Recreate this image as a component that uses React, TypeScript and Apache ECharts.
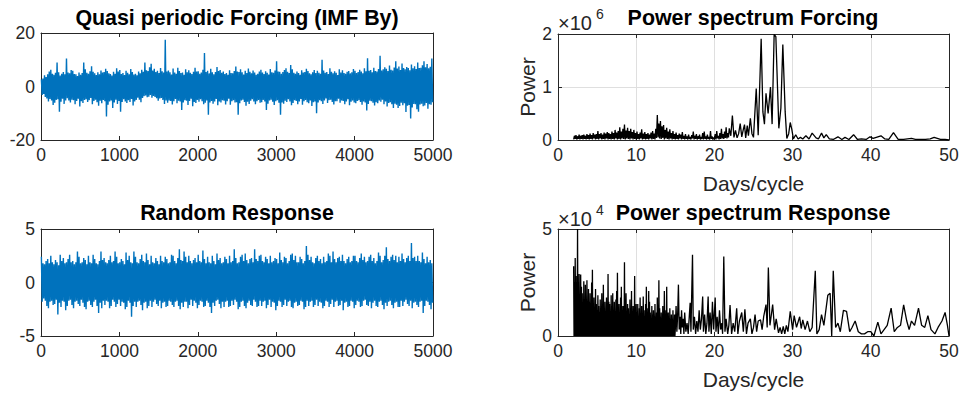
import React, { useEffect, useRef } from "react";
import * as echarts from "echarts";

// ---- time series envelopes: max / min of each bin of 20 samples (days 0..5000) ----
const SAMPLES_PER_BIN = 20;
const forcingMax = [
  2.6, 3.0, 4.2, 3.5, 4.6, 5.6, 6.3, 4.8, 4.4, 5.1, 9.0, 5.3, 4.1, 4.8, 5.4, 4.6, 10.5, 5.2, 4.9, 6.2,
  5.9, 4.7, 4.6, 3.9, 5.2, 4.4, 5.0, 9.0, 6.4, 5.1, 4.8, 5.7, 7.6, 5.5, 4.9, 4.3, 5.3, 4.6, 6.0, 5.2,
  5.4, 6.6, 5.8, 4.9, 4.7, 4.1, 5.5, 4.8, 6.8, 5.6, 6.2, 4.7, 5.0, 4.3, 5.9, 5.1, 4.6, 6.5, 5.4, 4.5,
  4.8, 4.2, 5.6, 4.9, 6.3, 5.5, 9.0, 6.1, 5.8, 7.2, 8.5, 6.0, 6.6, 5.4, 5.9, 5.0, 6.9, 5.7, 5.2, 17.5,
  5.6, 6.0, 5.3, 4.5, 6.7, 5.2, 4.8, 7.0, 5.8, 5.0, 5.2, 4.4, 6.4, 5.3, 6.1, 5.1, 4.7, 5.5, 7.0, 5.6,
  5.7, 4.8, 5.2, 6.3, 12.5, 5.4, 5.9, 4.9, 6.6, 5.3, 4.6, 5.4, 7.3, 5.8, 6.2, 5.1, 5.6, 4.7, 5.0, 4.4,
  6.1, 5.0, 4.9, 5.8, 7.5, 5.6, 5.4, 6.4, 5.3, 4.5, 5.9, 5.0, 6.7, 5.5, 4.9, 6.0, 5.2, 4.4, 4.8, 5.6,
  6.3, 5.2, 4.7, 5.7, 5.1, 4.5, 6.5, 5.3, 5.1, 6.0, 9.4, 5.6, 5.5, 4.8, 5.4, 6.2, 6.8, 5.5, 5.0, 8.0,
  6.4, 5.1, 4.8, 5.6, 5.0, 4.4, 6.1, 5.2, 5.4, 6.6, 5.8, 4.9, 4.6, 5.3, 6.2, 5.0, 5.9, 5.1, 4.8, 10.0,
  6.0, 5.1, 5.4, 4.7, 6.8, 5.5, 4.9, 5.7, 5.1, 4.3, 6.4, 5.2, 6.1, 5.0, 4.8, 5.5, 5.8, 4.9, 5.3, 6.5,
  5.9, 5.0, 5.4, 6.3, 5.6, 4.9, 6.8, 5.7, 10.6, 5.9, 6.2, 5.3, 7.0, 5.8, 5.6, 6.5, 11.5, 6.0, 6.4, 7.2,
  6.6, 5.8, 7.8, 6.3, 6.0, 7.1, 9.4, 6.7, 7.5, 6.2, 8.6, 6.9, 6.4, 7.3, 6.9, 6.1, 8.2, 6.8, 7.6, 6.5,
  9.0, 6.9, 7.0, 7.9, 9.4, 7.2, 8.4, 6.8, 7.4, 10.5,
];
const forcingMin = [
  -3.2, -2.8, -3.9, -4.5, -5.6, -4.7, -5.2, -6.9, -6.1, -5.0, -4.8, -9.4, -5.7, -4.6, -6.5, -5.2, -4.4, -5.2, -6.0, -4.9,
  -5.1, -6.6, -5.4, -4.6, -7.5, -5.5, -6.2, -5.0, -4.8, -5.8, -5.1, -4.3, -6.6, -5.4, -4.9, -5.9, -7.2, -5.3, -6.3, -5.0,
  -5.5, -11.2, -6.8, -5.6, -5.2, -8.0, -6.0, -4.9, -6.5, -5.4, -9.4, -5.8, -4.8, -5.6, -6.2, -5.1, -5.8, -4.7, -7.1, -5.6,
  -5.0, -4.2, -4.9, -5.9, -4.3, -3.6, -3.4, -4.0, -3.8, -3.2, -4.2, -3.5, -3.9, -4.4, -5.3, -4.5, -4.3, -5.0, -6.5, -5.2,
  -6.1, -5.2, -5.4, -6.7, -5.5, -4.7, -6.3, -5.3, -5.6, -8.8, -6.0, -5.1, -5.3, -6.9, -5.4, -4.6, -7.4, -5.8, -6.2, -5.0,
  -5.7, -4.8, -5.5, -6.6, -6.1, -5.2, -10.6, -6.0, -5.4, -6.4, -5.6, -4.7, -7.0, -5.6, -6.0, -5.1, -5.3, -6.7, -5.5, -4.6,
  -6.8, -5.5, -5.1, -6.0, -5.9, -10.6, -6.3, -5.2, -4.9, -5.8, -7.2, -5.7, -6.5, -5.3, -4.8, -5.6, -6.6, -5.5, -5.0, -6.1,
  -5.9, -5.0, -5.6, -8.8, -6.4, -5.2, -4.9, -5.7, -6.9, -5.5, -5.1, -6.1, -10.6, -6.0, -6.4, -5.3, -5.8, -4.8, -5.6, -7.0,
  -6.2, -5.1, -5.4, -6.6, -5.6, -4.7, -6.8, -5.5, -5.0, -5.9, -6.3, -5.2, -7.3, -5.9, -5.6, -10.0, -6.0, -5.1, -5.5, -6.5,
  -5.2, -4.5, -6.2, -5.1, -4.9, -5.8, -6.7, -5.5, -5.5, -4.6, -6.1, -5.2, -5.4, -6.6, -5.6, -4.8, -7.0, -5.7, -5.2, -6.0,
  -6.3, -5.4, -5.1, -5.8, -6.8, -5.6, -6.0, -9.0, -6.5, -5.3, -5.5, -6.1, -7.1, -5.9, -6.3, -5.2, -5.7, -4.9, -6.6, -5.6,
  -7.5, -6.2, -5.9, -6.6, -8.0, -6.4, -6.8, -8.0, -7.3, -6.1, -7.0, -6.3, -9.5, -7.2, -6.9, -12.0, -7.8, -6.5, -6.6, -8.5,
  -9.4, -6.7, -6.4, -7.4, -7.1, -6.2, -8.3, -6.6, -6.8, -5.9,
];
const responseMax = [
  2.4, 1.8, 1.7, 2.0, 2.2, 1.8, 2.5, 1.9, 1.7, 2.1, 1.9, 1.6, 2.6, 2.0, 2.3, 1.8, 1.9, 2.2, 2.6, 1.9,
  2.0, 1.7, 1.9, 2.9, 2.4, 1.8, 1.9, 2.3, 2.1, 1.7, 2.5, 1.9, 1.8, 2.6, 2.2, 1.8, 1.7, 2.0, 2.9, 2.1,
  2.3, 1.9, 1.8, 2.1, 2.5, 1.9, 2.0, 2.9, 2.4, 1.8, 1.9, 2.2, 2.0, 1.7, 2.8, 2.1, 2.5, 1.9, 1.8, 2.9,
  2.4, 1.9, 1.8, 2.2, 2.6, 2.0, 1.9, 2.7, 2.1, 1.7, 2.5, 1.9, 1.8, 2.3, 2.0, 1.7, 2.5, 2.0, 1.9, 2.4,
  2.2, 1.8, 1.9, 2.6, 2.5, 2.0, 1.8, 2.3, 3.1, 2.1, 2.0, 2.9, 2.4, 1.9, 2.5, 2.0, 1.8, 2.1, 2.3, 1.9,
  2.6, 2.0, 1.9, 3.0, 2.2, 1.8, 2.4, 1.9, 1.8, 2.5, 2.0, 1.7, 2.7, 2.1, 2.3, 1.8, 1.9, 2.4, 2.2, 1.8,
  2.5, 1.9, 2.0, 3.1, 2.3, 1.8, 1.9, 2.4, 2.6, 2.0, 2.7, 2.1, 1.8, 2.2, 2.3, 1.9, 3.1, 2.2, 2.0, 2.5,
  2.6, 2.0, 1.9, 2.4, 2.2, 1.8, 2.5, 1.9, 2.0, 2.3, 2.2, 1.8, 2.8, 2.1, 1.9, 2.4, 2.3, 1.8, 2.0, 2.6,
  2.7, 2.1, 2.5, 1.9, 1.9, 2.4, 2.2, 1.8, 2.0, 3.4, 2.6, 2.1, 2.4, 1.9, 1.8, 2.3, 2.5, 2.0, 2.2, 1.8,
  2.4, 1.9, 2.0, 2.7, 2.5, 1.9, 2.9, 2.2, 1.9, 2.3, 2.4, 2.0, 2.6, 2.0, 1.8, 2.2, 2.4, 1.9, 2.0, 2.5,
  2.5, 2.0, 1.9, 2.3, 2.7, 2.1, 2.4, 1.9, 2.0, 2.4, 2.6, 2.0, 2.3, 1.8, 2.0, 2.8, 2.5, 1.9, 2.1, 2.5,
  3.3, 2.2, 2.0, 2.4, 2.6, 2.1, 2.5, 1.9, 2.4, 2.0, 2.7, 2.2, 1.9, 2.3, 2.5, 2.0, 3.7, 2.3, 2.4, 2.0,
  2.5, 2.0, 1.9, 2.8, 2.2, 1.8, 2.4, 1.9, 2.1, 1.8,
];
const responseMin = [
  -1.8, -1.5, -1.7, -2.2, -2.4, -1.8, -1.7, -2.1, -2.0, -1.6, -3.0, -1.9, -2.3, -1.7, -1.8, -2.6, -2.2, -1.7, -1.6, -2.1,
  -2.4, -1.8, -1.7, -2.0, -2.2, -1.6, -1.9, -2.3, -2.5, -1.8, -1.7, -2.1, -2.3, -1.8, -1.6, -2.2, -2.85, -1.9, -2.4, -1.7,
  -2.1, -1.7, -1.8, -2.4, -2.2, -1.6, -1.8, -2.3, -2.0, -1.6, -2.2, -1.8, -1.9, -2.5, -2.3, -1.7, -1.9, -3.2, -2.2, -1.8,
  -2.3, -1.8, -1.7, -2.1, -2.6, -1.9, -1.8, -2.4, -2.2, -1.7, -2.3, -1.8, -1.6, -2.0, -2.2, -1.7, -2.4, -1.9, -1.8, -2.3,
  -2.2, -1.7, -1.8, -2.1, -2.3, -1.8, -1.7, -2.2, -2.5, -1.9, -2.3, -1.8, -1.8, -2.4, -2.1, -1.6, -2.2, -1.7, -1.9, -2.4,
  -2.1, -1.7, -1.8, -2.3, -2.2, -1.7, -1.9, -2.3, -2.85, -1.9, -2.2, -1.7, -1.6, -2.0, -2.4, -1.8, -2.3, -1.8, -1.7, -2.3,
  -2.2, -1.7, -2.1, -1.6, -1.8, -2.5, -2.3, -1.8, -1.7, -2.2, -2.4, -1.9, -1.7, -2.1, -2.2, -1.6, -1.8, -2.3, -2.2, -1.7,
  -2.2, -1.8, -1.7, -2.4, -2.1, -1.6, -2.3, -1.8, -1.9, -2.6, -2.2, -1.7, -1.8, -2.3, -2.1, -1.6, -2.2, -1.8, -1.7, -2.3,
  -2.4, -1.9, -1.8, -2.2, -2.1, -1.7, -1.8, -2.5, -2.3, -1.7, -2.2, -1.8, -1.7, -2.3, -2.1, -1.6, -2.2, -1.8, -1.9, -2.4,
  -2.2, -1.7, -1.8, -2.3, -2.0, -1.6, -2.3, -1.8, -1.7, -2.2, -2.1, -1.7, -2.6, -1.9, -1.8, -2.3, -2.2, -1.7, -1.8, -2.4,
  -2.1, -1.7, -1.8, -2.3, -2.2, -1.7, -1.6, -2.1, -2.2, -1.8, -2.4, -1.9, -1.7, -2.2, -2.3, -1.8, -1.7, -2.1, -2.5, -1.9,
  -2.2, -1.8, -1.7, -2.1, -2.4, -1.9, -1.8, -2.3, -2.3, -1.7, -2.2, -1.8, -1.6, -2.0, -2.2, -1.7, -2.4, -1.9, -1.8, -2.1,
  -2.3, -1.8, -1.7, -2.85, -2.2, -1.7, -1.8, -2.1, -2.5, -1.9,
];

// ---- forcing power spectrum (x1e6), dense part 2.0 .. 21.9 days, step 0.1 ----
const forcingDenseStart = 2.0;
const forcingDenseStep = 0.1;
const forcingDense = [
  0.01, 0.08, 0.02, 0.09, 0.01, 0.07, 0.02, 0.10, 0.01, 0.08,
  0.02, 0.09, 0.01, 0.10, 0.02, 0.08, 0.01, 0.11, 0.02, 0.09,
  0.01, 0.12, 0.02, 0.09, 0.01, 0.13, 0.03, 0.10, 0.01, 0.11,
  0.02, 0.17, 0.01, 0.11, 0.03, 0.13, 0.01, 0.10, 0.02, 0.14,
  0.01, 0.12, 0.03, 0.15, 0.01, 0.13, 0.02, 0.11, 0.01, 0.16,
  0.02, 0.13, 0.01, 0.19, 0.03, 0.14, 0.01, 0.17, 0.02, 0.24,
  0.01, 0.16, 0.03, 0.21, 0.02, 0.29, 0.01, 0.18, 0.03, 0.23,
  0.02, 0.17, 0.01, 0.21, 0.03, 0.15, 0.01, 0.19, 0.02, 0.13,
  0.01, 0.16, 0.02, 0.11, 0.01, 0.14, 0.03, 0.20, 0.01, 0.12,
  0.02, 0.15, 0.01, 0.11, 0.02, 0.13, 0.01, 0.10, 0.03, 0.14,
  0.01, 0.17, 0.02, 0.12, 0.01, 0.21, 0.04, 0.47, 0.05, 0.31,
  0.03, 0.36, 0.02, 0.26, 0.04, 0.28, 0.01, 0.19, 0.03, 0.23,
  0.02, 0.16, 0.01, 0.20, 0.03, 0.13, 0.01, 0.17, 0.02, 0.11,
  0.01, 0.14, 0.02, 0.09, 0.01, 0.12, 0.03, 0.10, 0.01, 0.15,
  0.02, 0.08, 0.01, 0.11, 0.02, 0.07, 0.01, 0.10, 0.02, 0.06,
  0.01, 0.09, 0.03, 0.16, 0.01, 0.08, 0.02, 0.11, 0.01, 0.07,
  0.02, 0.10, 0.01, 0.06, 0.02, 0.13, 0.01, 0.16, 0.02, 0.07,
  0.01, 0.10, 0.02, 0.06, 0.01, 0.17, 0.02, 0.07, 0.01, 0.05,
  0.02, 0.11, 0.01, 0.17, 0.03, 0.08, 0.01, 0.13, 0.02, 0.21,
  0.03, 0.11, 0.02, 0.16, 0.04, 0.24, 0.03, 0.13, 0.05, 0.22,
];
const forcingTailPeriods = [
  22.1, 22.3, 22.5, 22.7, 22.9, 23.1, 23.3, 23.5, 23.7, 23.85,
  24.0, 24.2, 24.35, 24.6, 24.8, 25.0, 25.35, 25.6, 25.98, 26.2,
  26.4, 26.6, 26.87, 27.17, 27.38, 27.64, 27.86, 28.24, 28.5, 28.75,
  29.05, 29.26, 29.5, 29.7, 29.9, 30.1, 30.4, 30.7, 31.0, 31.3,
  31.7, 32.1, 32.5, 33.0, 33.3, 33.7, 34.0, 34.3, 34.7, 35.2,
  35.8, 36.3, 36.7, 37.2, 37.8, 38.3, 38.8, 39.4, 39.9, 40.3,
  40.7, 41.3, 41.8, 42.3, 42.9, 43.5, 44.2, 45.2, 45.7, 46.3,
  47.0, 47.6, 48.1, 48.9, 49.5, 50.0,
];
const forcingTailPower = [
  0.08, 0.46, 0.05, 0.18, 0.04, 0.12, 0.31, 0.06, 0.20, 0.29,
  0.04, 0.27, 0.08, 0.41, 0.12, 0.05, 0.97, 0.09, 1.91, 0.53,
  0.30, 0.88, 0.50, 1.00, 0.30, 1.99, 1.95, 0.22, 0.60, 1.80,
  0.53, 0.03, 0.12, 0.33, 0.20, 0.02, 0.10, 0.02, 0.05, 0.02,
  0.08, 0.02, 0.13, 0.04, 0.02, 0.13, 0.04, 0.10, 0.02, 0.01,
  0.06, 0.01, 0.05, 0.01, 0.10, 0.01, 0.02, 0.01, 0.06, 0.03,
  0.05, 0.08, 0.02, 0.01, 0.14, 0.01, 0.01, 0.03, 0.01, 0.01,
  0.01, 0.02, 0.05, 0.01, 0.01, 0.0,
];

// ---- response power spectrum (x1e4), dense peaks 2.0 .. 14.9 days, step 0.1 ----
const responseDenseStart = 2.0;
const responseDenseStep = 0.1;
const responseDensePeaks = [
  3.26, 2.5, 3.65, 2.8, 2.2, 5.0, 2.2, 2.9, 1.8, 2.87,
  2.3, 2.0, 1.5, 2.56, 1.2, 2.4, 1.7, 2.6, 1.1, 2.2,
  1.6, 2.0, 1.3, 2.5, 3.1, 1.4, 1.8, 1.0, 2.2, 1.5,
  1.2, 1.9, 1.4, 1.1, 1.7, 1.3, 2.0, 1.5, 2.4, 1.2,
  1.6, 1.0, 1.8, 1.3, 2.9, 1.6, 1.5, 1.1, 1.9, 1.4,
  2.0, 1.2, 1.6, 1.0, 1.7, 2.1, 2.95, 1.3, 1.5, 1.1,
  1.8, 2.3, 1.0, 1.4, 1.2, 3.45, 1.6, 2.0, 1.1, 1.5,
  1.3, 0.9, 1.7, 1.2, 2.1, 1.0, 1.4, 0.8, 2.8, 1.2,
  1.5, 1.1, 1.5, 0.9, 1.3, 1.8, 1.0, 1.4, 0.8, 1.85,
  1.2, 0.9, 1.5, 2.3, 1.3, 0.7, 2.1, 1.6, 1.1, 0.8,
  1.4, 1.0, 1.2, 0.7, 1.5, 0.9, 1.1, 1.8, 0.8, 2.6,
  1.3, 0.9, 1.1, 0.6, 1.4, 1.0, 2.1, 0.8, 1.2, 2.3,
  0.9, 1.1, 0.7, 1.3, 0.6, 1.0, 0.8, 1.2, 0.5, 1.0,
];
const responseTailPeriods = [
  15.0, 15.1, 15.2, 15.3, 15.4, 15.5, 15.6, 15.7, 15.8, 15.9,
  16.0, 16.1, 16.2, 16.35, 16.5, 16.65, 16.8, 16.9, 17.0, 17.2,
  17.3, 17.45, 17.6, 17.75, 17.9, 18.05, 18.2, 18.35, 18.5, 18.6,
  18.75, 18.9, 19.05, 19.2, 19.3, 19.45, 19.6, 19.75, 19.9, 20.1,
  20.2, 20.35, 20.5, 20.65, 20.8, 20.95, 21.05, 21.2, 21.35, 21.5,
  21.7, 21.85, 22.0, 22.2, 22.4, 22.6, 22.85, 23.0, 23.2, 23.5,
  23.7, 23.9, 24.1, 24.3, 24.6, 24.8, 25.0, 25.2, 25.4, 25.6,
  25.9, 26.1, 26.3, 26.6, 26.75, 26.9, 27.1, 27.25, 27.45, 27.7,
  27.9, 28.2, 28.4, 28.6, 28.8, 29.0, 29.2, 29.4, 29.7, 30.0,
  30.2, 30.5, 30.9, 31.1, 31.3, 31.6, 31.9, 32.2, 32.5, 32.9,
  33.1, 33.4, 33.7, 34.0, 34.5, 34.8, 35.0, 35.2, 35.5, 35.8,
  36.1, 36.5, 36.9, 37.3, 37.6, 38.0, 38.4, 38.8, 39.2, 39.6,
  40.0, 40.4, 40.9, 41.3, 41.7, 42.1, 42.6, 43.0, 43.4, 43.8,
  44.2, 44.6, 44.9, 45.2, 45.6, 46.1, 46.5, 46.9, 47.3, 47.7,
  48.2, 48.6, 49.1, 49.5, 49.8, 50.0,
];
const responseTailPower = [
  0.3, 1.4, 0.2, 1.0, 2.4, 0.3, 0.9, 0.1, 1.2, 0.4,
  0.8, 0.1, 1.1, 0.2, 0.6, 0.1, 1.0, 1.55, 0.2, 3.8,
  0.3, 0.9, 0.1, 0.7, 0.2, 1.2, 0.3, 0.8, 1.85, 0.2,
  1.0, 0.1, 0.6, 1.85, 0.2, 1.1, 0.1, 1.6, 0.3, 1.8,
  0.2, 0.9, 0.1, 1.2, 0.3, 0.6, 0.1, 3.72, 0.2, 0.8,
  0.1, 0.5, 1.45, 0.1, 0.6, 0.2, 1.3, 0.1, 0.7, 1.1,
  0.2, 1.25, 0.1, 0.6, 0.8, 0.1, 0.4, 1.0, 0.2, 0.7,
  0.75, 0.3, 0.9, 1.47, 0.4, 3.2, 0.5, 0.9, 1.47, 0.3,
  0.8, 0.15, 0.4, 0.1, 0.45, 0.1, 0.5, 0.2, 1.15, 0.3,
  0.95, 0.4, 0.9, 0.35, 0.75, 0.3, 0.7, 0.2, 0.4, 3.05,
  0.1, 0.3, 1.0, 0.5, 1.9, 2.0, 0.0, 3.05, 0.4, 0.6,
  0.2, 1.2, 1.15, 0.2, 0.4, 0.7, 0.2, 0.1, 0.1, 0.2,
  0.2, 0.0, 0.65, 0.1, 0.3, 0.5, 1.3, 0.2, 0.4, 0.5,
  1.45, 0.7, 0.3, 0.7, 0.5, 1.3, 0.5, 0.4, 0.95, 0.3,
  0.1, 0.4, 0.7, 1.1, 0.5, 0.0,
];

// ---- axis ticks ----
const tsTicks = [0, 1000, 2000, 3000, 4000, 5000];
const periodTicks = [0, 10, 20, 30, 40, 50];

const FONT = '"Liberation Sans", Arial, Helvetica, sans-serif';
const AX = "#262626";
const BLUE = "#0072BD";
const GRIDC = "#dfdfdf";
const TICK_FS = 17.5;
const NAME_FS = 21;
const TITLE_FS = 21.4;

function envelopePoints(maxs: number[], mins: number[], bin: number) {
  const pts: number[][] = [];
  for (let i = 0; i < maxs.length; i++) {
    pts.push([i * bin + bin * 0.25, maxs[i]]);
    pts.push([i * bin + bin * 0.75, mins[i]]);
  }
  return pts;
}

function forcingSpectrumPoints() {
  const pts: number[][] = [];
  forcingDense.forEach((v, i) => pts.push([forcingDenseStart + i * forcingDenseStep, v]));
  forcingTailPeriods.forEach((p, i) => pts.push([p, forcingTailPower[i]]));
  return pts;
}

function responseSpectrumPoints() {
  const pts: number[][] = [];
  responseDensePeaks.forEach((v, i) => {
    const x = responseDenseStart + i * responseDenseStep;
    pts.push([x, v]);
    pts.push([x + responseDenseStep / 2, 0]);
  });
  responseTailPeriods.forEach((p, i) => pts.push([p, responseTailPower[i]]));
  return pts;
}

const grids = [
  { left: 41, top: 33, width: 392, height: 107 },
  { left: 558, top: 34, width: 391, height: 106 },
  { left: 41, top: 229, width: 392, height: 107 },
  { left: 558, top: 229, width: 391, height: 107 },
];

const plainNum = (v: number) => String(v);

function bottomX(gridIndex: number, ticks: number[], grid: boolean, name?: string) {
  return {
    type: "value",
    gridIndex,
    position: "bottom",
    min: ticks[0],
    max: ticks[ticks.length - 1],
    interval: ticks[1] - ticks[0],
    axisLine: { show: true, onZero: false, lineStyle: { color: AX, width: 1 } },
    axisTick: { show: true, inside: true, length: 4, lineStyle: { color: AX } },
    axisLabel: { show: true, color: AX, fontSize: TICK_FS, fontFamily: FONT, margin: 6, formatter: plainNum },
    splitLine: { show: grid, lineStyle: { color: GRIDC, width: 1 } },
    name: name || "",
    nameLocation: "middle",
    nameGap: 33,
    nameTextStyle: { color: AX, fontSize: NAME_FS, fontFamily: FONT },
  };
}
function topX(gridIndex: number, ticks: number[]) {
  return {
    type: "value",
    gridIndex,
    position: "top",
    min: ticks[0],
    max: ticks[ticks.length - 1],
    interval: ticks[1] - ticks[0],
    axisLine: { show: true, onZero: false, lineStyle: { color: AX, width: 1 } },
    axisTick: { show: true, inside: true, length: 4, lineStyle: { color: AX } },
    axisLabel: { show: false },
    splitLine: { show: false },
  };
}
function leftY(gridIndex: number, min: number, max: number, interval: number, grid: boolean, name?: string) {
  return {
    type: "value",
    gridIndex,
    position: "left",
    min,
    max,
    interval,
    axisLine: { show: true, onZero: false, lineStyle: { color: AX, width: 1 } },
    axisTick: { show: true, inside: true, length: 4, lineStyle: { color: AX } },
    axisLabel: { show: true, color: AX, fontSize: TICK_FS, fontFamily: FONT, margin: 6, formatter: plainNum },
    splitLine: { show: grid, lineStyle: { color: GRIDC, width: 1 } },
    name: name || "",
    nameLocation: "middle",
    nameGap: 17,
    nameRotate: 90,
    nameTextStyle: { color: AX, fontSize: NAME_FS, fontFamily: FONT },
  };
}
function rightY(gridIndex: number, min: number, max: number, interval: number) {
  return {
    type: "value",
    gridIndex,
    position: "right",
    min,
    max,
    interval,
    axisLine: { show: true, onZero: false, lineStyle: { color: AX, width: 1 } },
    axisTick: { show: true, inside: true, length: 4, lineStyle: { color: AX } },
    axisLabel: { show: false },
    splitLine: { show: false },
  };
}

function titleText(text: string, x: number, y: number) {
  return {
    type: "text",
    x,
    y,
    style: {
      text,
      font: `bold ${TITLE_FS}px ${FONT}`,
      fill: "#000",
      textAlign: "center",
      textVerticalAlign: "middle",
      align: "center",
      verticalAlign: "middle",
    },
  };
}
function plainText(text: string, x: number, y: number, size: number) {
  return {
    type: "text",
    x,
    y,
    style: {
      text,
      font: `${size}px ${FONT}`,
      fill: AX,
      textAlign: "left",
      textVerticalAlign: "middle",
      align: "left",
      verticalAlign: "middle",
    },
  };
}

export default function App() {
  const ref = useRef<HTMLDivElement>(null);
  useEffect(() => {
    if (!ref.current) return;
    const chart = echarts.init(ref.current, undefined, { renderer: "svg" });
    const option = {
      animation: false,
      backgroundColor: "#ffffff",
      grid: grids.map((g) => ({ ...g, containLabel: false })),
      xAxis: [
        bottomX(0, tsTicks, false),
        bottomX(1, periodTicks, true, "Days/cycle"),
        bottomX(2, tsTicks, false),
        bottomX(3, periodTicks, true, "Days/cycle"),
        topX(0, tsTicks),
        topX(1, periodTicks),
        topX(2, tsTicks),
        topX(3, periodTicks),
      ],
      yAxis: [
        leftY(0, -20, 20, 20, false),
        leftY(1, 0, 2, 1, true, "Power"),
        leftY(2, -5, 5, 5, false),
        leftY(3, 0, 5, 5, true, "Power"),
        rightY(0, -20, 20, 20),
        rightY(1, 0, 2, 1),
        rightY(2, -5, 5, 5),
        rightY(3, 0, 5, 5),
      ],
      series: [
        {
          type: "line",
          xAxisIndex: 0,
          yAxisIndex: 0,
          data: envelopePoints(forcingMax, forcingMin, SAMPLES_PER_BIN),
          showSymbol: false,
          lineStyle: { color: BLUE, width: 1.4 },
          itemStyle: { color: BLUE },
        },
        {
          type: "line",
          xAxisIndex: 1,
          yAxisIndex: 1,
          data: forcingSpectrumPoints(),
          showSymbol: false,
          lineStyle: { color: "#000", width: 1.3 },
          itemStyle: { color: "#000" },
        },
        {
          type: "line",
          xAxisIndex: 2,
          yAxisIndex: 2,
          data: envelopePoints(responseMax, responseMin, SAMPLES_PER_BIN),
          showSymbol: false,
          lineStyle: { color: BLUE, width: 1.4 },
          itemStyle: { color: BLUE },
        },
        {
          type: "line",
          xAxisIndex: 3,
          yAxisIndex: 3,
          data: responseSpectrumPoints(),
          showSymbol: false,
          lineStyle: { color: "#000", width: 1.3 },
          itemStyle: { color: "#000" },
        },
      ],
      graphic: [
        titleText("Quasi periodic Forcing (IMF By)", 237, 18),
        titleText("Power spectrum Forcing", 753, 18),
        titleText("Random Response", 237, 213),
        titleText("Power spectrum Response", 753, 213),
        plainText("×10", 558, 23, 20),
        plainText("6", 596, 14, 14),
        plainText("×10", 558, 219, 20),
        plainText("4", 596, 210, 14),
      ],
    };
    chart.setOption(option as any);
    return () => chart.dispose();
  }, []);
  return (
    <div
      ref={ref}
      style={{ position: "absolute", left: 0, top: 0, width: 964, height: 394, background: "#fff" }}
    />
  );
}
